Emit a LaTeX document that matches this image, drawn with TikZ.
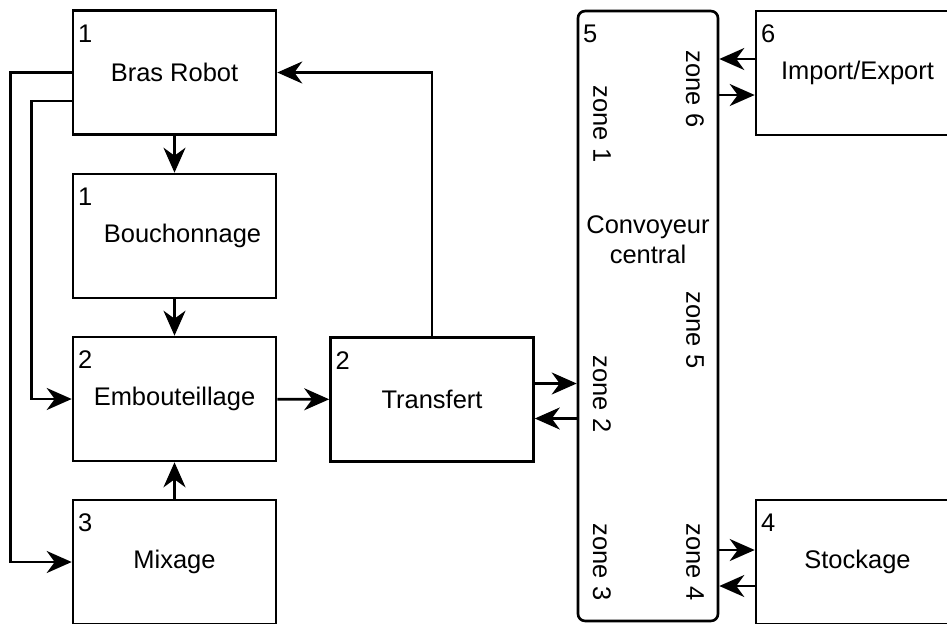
\documentclass[tikz,border=0pt]{standalone}
\usepackage{fontspec}
\setmainfont{Liberation Sans}
\usetikzlibrary{arrows.meta,positioning}

\begin{document}
\begin{tikzpicture}[x=0.02cm,y=-0.02cm,
block/.style={draw=black,line width=1.5pt,minimum width=4.06cm,minimum height=2.48cm,
inner sep=0pt,font=\fontsize{14.5}{17}\selectfont},
tag/.style={anchor=north west,inner sep=0pt,font=\fontsize{14.5}{17}\selectfont},
zone/.style={rotate=-90,inner sep=0pt,font=\fontsize{14.5}{17}\selectfont},
flow/.style={-{Stealth[length=5mm,width=4.4mm,inset=1.6mm]},line width=1.5pt}]
\useasboundingbox (0,0) rectangle (947,623);
\clip (0,0) rectangle (947,623);
% left column
\node[block] (bras) at (174.5,72.5) {Bras Robot};
\node[block] (bouch) at (174.5,236) {\hspace*{0.32cm}Bouchonnage};
\node[block] (embout) at (174.5,399) {Embouteillage};
\node[block] (mix) at (174.5,562) {Mixage};
\node[block] (transf) at (432,399.5) {Transfert};
% convoyeur and zones
\node[block,rounded corners=0.14cm,minimum width=2.8cm,minimum height=12.2cm] (conv) at (648,316) {};
\node[align=center,inner sep=0pt,font=\fontsize{14.5}{17}\selectfont] (convtxt) at (648,240) {Convoyeur\\central};
\node[zone] (z1) at (602,124) {zone 1};
\node[zone] (z2) at (602,394) {zone 2};
\node[zone] (z3) at (602,562) {zone 3};
\node[zone] (z4) at (695,562) {zone 4};
\node[zone] (z5) at (695,330) {zone 5};
\node[zone] (z6) at (695,89) {zone 6};
% right column
\node[block] (impexp) at (857.5,73) {Import/Export};
\node[block] (stock) at (857.5,562) {Stockage};
\foreach \n/\k in {bras/1,bouch/1,embout/2,mix/3,transf/2,conv/5,impexp/6,stock/4}{
\node[tag] (\n-num) at ([shift={(6,15)}]\n.north west) {\k};}
% connections
\foreach \a/\b in {bras/bouch,bouch/embout,mix/embout,embout/transf}{
\draw[flow] (\a)--(\b);}
\draw[flow] (bras.west)--++(-61,0)|-(mix.west);
\draw[flow] ([shift={(0,28.5)}]bras.west)--++(-40,0)|-(embout.west);
\draw[flow] (transf.north)|-(bras.east);
\draw[flow] ([shift={(0,-16)}]transf.east)--([shift={(0,-16)}]transf.east -| conv.west);
\draw[flow] ([shift={(0,19)}]transf.east -| conv.west)--([shift={(0,19)}]transf.east);
\draw[flow] ([shift={(0,-14)}]impexp.west)--([shift={(0,-14)}]impexp.west -| conv.east);
\draw[flow] ([shift={(0,22)}]impexp.west -| conv.east)--([shift={(0,22)}]impexp.west);
\draw[flow] ([shift={(0,-12)}]stock.west -| conv.east)--([shift={(0,-12)}]stock.west);
\draw[flow] ([shift={(0,24)}]stock.west)--([shift={(0,24)}]stock.west -| conv.east);
\end{tikzpicture}
\end{document}
